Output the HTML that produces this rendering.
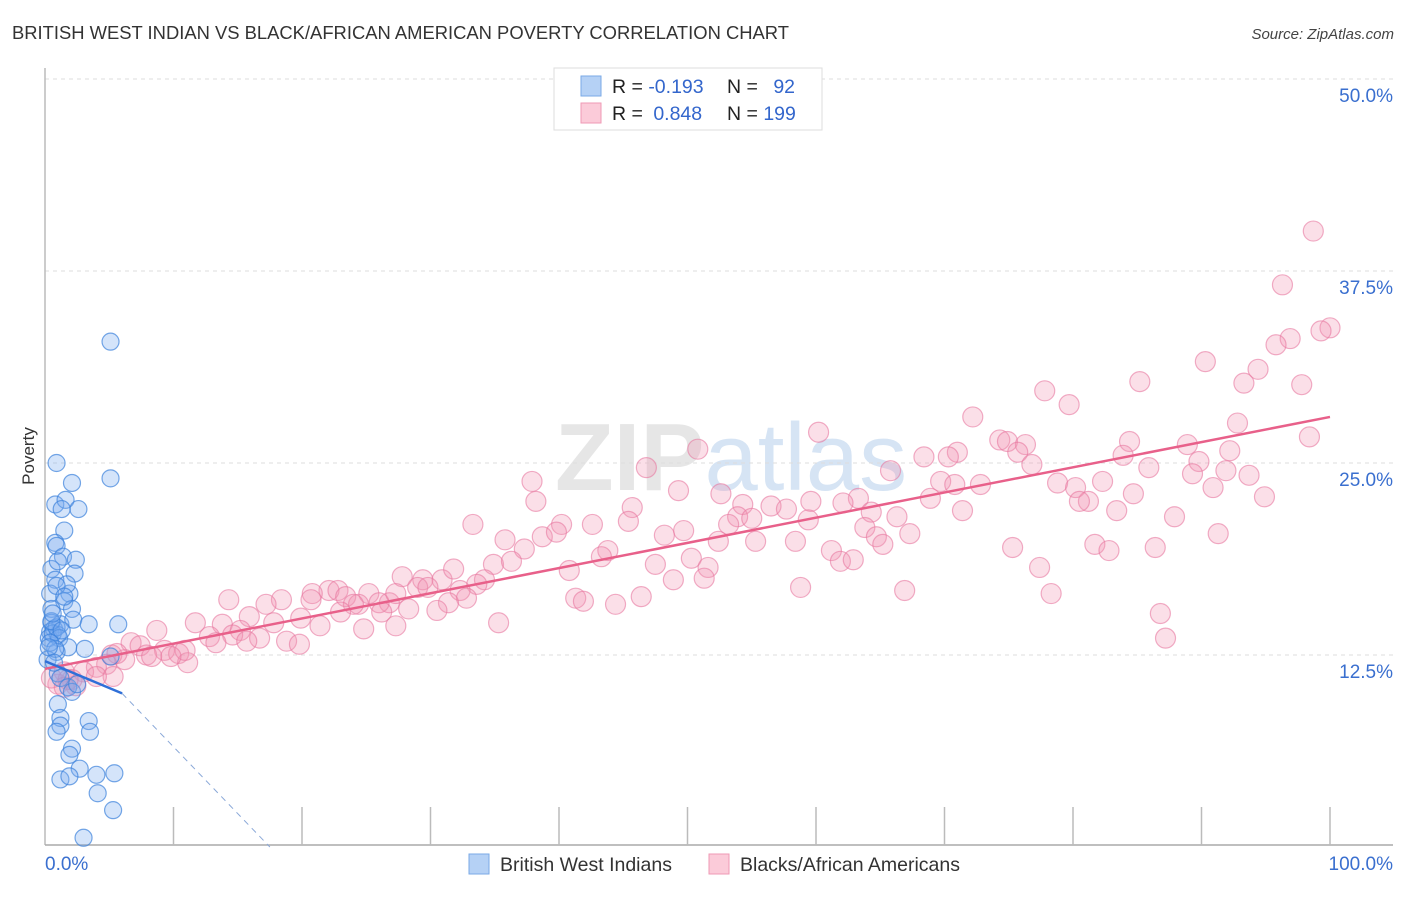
<!DOCTYPE html>
<html><head><meta charset="utf-8"><style>
body{margin:0;background:#fff;font-family:"Liberation Sans",sans-serif;}
svg text{font-family:"Liberation Sans",sans-serif;}
</style></head><body>
<svg id="chart" width="1406" height="892" xmlns="http://www.w3.org/2000/svg">
<text x="12" y="39" font-size="18.4" fill="#333">BRITISH WEST INDIAN VS BLACK/AFRICAN AMERICAN POVERTY CORRELATION CHART</text>
<text x="1394" y="39" font-size="15" font-style="italic" fill="#444" text-anchor="end">Source: ZipAtlas.com</text>
<text x="555" y="490" font-size="96" font-family="Liberation Serif" fill="#e6e6e6" font-weight="bold">ZIP<tspan font-family="Liberation Sans" font-weight="normal" fill="#d6e4f4">atlas</tspan></text>
<text transform="translate(34,456) rotate(-90)" font-size="17" fill="#333" text-anchor="middle">Poverty</text>
<g id="grid"></g>
<g id="axes"></g>
<g id="pinkpts"></g>
<g id="bluepts"></g>
<g id="lines"></g>
<g>
<rect x="554" y="68" width="268" height="62" fill="#fff" stroke="#ddd"/>
<rect x="581" y="76" width="20" height="20" fill="#b5d1f5" stroke="#7aa9e6"/>
<rect x="581" y="103" width="20" height="20" fill="#fbcbd9" stroke="#ef9ab5"/>
<text x="612" y="93" font-size="19.5" fill="#222">R = <tspan fill="#3366cc">-0.193</tspan></text>
<text x="727" y="93" font-size="19.5" fill="#222">N = <tspan fill="#3366cc" dx="10">92</tspan></text>
<text x="612" y="120" font-size="19.5" fill="#222">R = <tspan fill="#3366cc" dx="5">0.848</tspan></text>
<text x="727" y="120" font-size="19.5" fill="#222">N = <tspan fill="#3366cc">199</tspan></text>
</g>
<g>
<rect x="469" y="854" width="20" height="20" fill="#b5d1f5" stroke="#7aa9e6"/>
<text x="500" y="871" font-size="19.5" fill="#333">British West Indians</text>
<rect x="709" y="854" width="20" height="20" fill="#fbcbd9" stroke="#ef9ab5"/>
<text x="740" y="871" font-size="19.5" fill="#333">Blacks/African Americans</text>
</g>
</svg>
<script>
const yTicks=[12.5,25,37.5,50];
const yTickLabels=["12.5%","25.0%","37.5%","50.0%"];
const xTickLabels=["0.0%","100.0%"];
const blueX=[5.1,0.9,5.1,2.1,0.8,1.6,2.6,1.3,1.5,0.8,0.9,1.4,2.4,0.5,2.3,0.8,0.4,1.9,1.5,0.5,2.1,1.7,0.9,0.5,1.2,2.2,3.4,5.7,0.4,0.7,1.0,0.3,0.6,0.9,0.5,1.1,1.8,3.1,0.9,0.2,1.0,1.2,5.1,1.8,2.1,1.0,1.2,3.4,1.2,0.9,3.5,2.1,1.9,2.7,1.2,1.9,4.0,5.4,4.1,5.3,3.0,0.4,0.8,1.3,0.6,1.5,1.0,2.5,0.3,0.7];
const blueY=[32.9,25.0,24.0,23.7,22.3,22.6,22.0,22.0,20.6,19.8,19.6,18.9,18.7,18.1,17.8,17.4,16.5,16.5,16.0,15.5,15.5,17.1,17.0,14.6,14.5,14.8,14.5,14.5,14.0,14.2,13.8,13.6,13.9,14.3,14.7,13.6,13.0,12.9,12.7,12.2,11.3,11.0,12.4,10.4,10.1,9.3,8.4,8.2,7.9,7.5,7.5,6.4,6.0,5.1,4.4,4.6,4.7,4.8,3.5,2.4,0.6,13.3,12.9,14.1,15.2,16.3,18.6,10.6,13.0,12.0];
const pinkX=[98.7,96.3,100,99.3,96.9,95.8,90.3,94.4,85.2,93.3,97.8,77.8,79.7,72.2,92.8,60.2,84.4,98.4,74.3,74.9,76.3,88.9,71.0,75.7,68.4,70.3,83.9,92.2,50.8,76.8,89.8,46.8,85.9,89.3,65.8,91.9,93.7,37.9,69.7,82.3,78.8,80.2,81.2,72.8,70.8,52.6,49.3,68.9,63.3,84.7,90.9,94.9,38.2,83.4,54.3,53.9,56.5,57.7,59.6,62.1,45.7,71.4,55.0,59.4,64.3,87.9,80.5,33.3,40.2,42.6,45.4,49.7,53.2,63.8,66.3,67.3,38.7,39.8,48.2,91.3,64.7,35.8,37.3,52.4,55.3,58.4,65.2,81.7,75.3,86.4,61.2,82.8,43.8,43.3,50.3,34.9,36.3,61.9,62.9,47.5,51.6,77.4,40.8,51.3,27.8,48.9,30.9,29.4,34.2,31.8,33.6,29.0,29.8,32.3,25.2,22.1,22.8,23.4,20.8,20.7,18.4,17.2,14.3,26.8,24.4,26.0,24.0,27.3,41.3,41.9,46.4,44.4,32.8,31.4,30.5,28.3,26.2,23.0,58.8,66.9,78.3,86.8,87.2,35.3,27.3,24.8,21.4,19.9,17.8,15.9,11.7,8.7,13.8,15.2,12.8,14.6,16.7,18.8,19.8,13.3,15.7,6.7,7.4,9.3,7.9,6.2,8.3,10.4,11.1,10.9,9.8,5.2,5.6,4.8,4.0,3.0,1.5,5.3,4.0,2.1,1.0,2.4,0.5,1.8,1.5];
const pinkY=[40.1,36.6,33.8,33.6,33.1,32.7,31.6,31.1,30.3,30.2,30.1,29.7,28.8,28.0,27.6,27.0,26.4,26.7,26.5,26.4,26.2,26.2,25.7,25.7,25.4,25.4,25.5,25.8,25.9,24.9,25.1,24.7,24.7,24.3,24.5,24.5,24.2,23.8,23.8,23.8,23.7,23.4,22.5,23.6,23.6,23.0,23.2,22.7,22.7,23.0,23.4,22.8,22.5,21.9,22.3,21.5,22.2,22.0,22.5,22.4,22.1,21.9,21.4,21.3,21.8,21.5,22.5,21.0,21.0,21.0,21.2,20.6,21.0,20.8,21.5,20.4,20.2,20.5,20.3,20.4,20.2,20.0,19.4,19.9,19.9,19.9,19.7,19.7,19.5,19.5,19.3,19.3,19.3,18.9,18.8,18.4,18.6,18.6,18.7,18.4,18.2,18.2,18.0,17.5,17.6,17.4,17.4,17.4,17.4,18.1,17.1,16.9,16.9,16.7,16.5,16.7,16.7,16.3,16.5,16.1,16.1,15.8,16.1,15.9,15.8,15.9,15.8,16.5,16.2,16.0,16.3,15.8,16.2,15.9,15.4,15.5,15.3,15.3,16.9,16.7,16.5,15.2,13.6,14.6,14.4,14.2,14.4,14.9,14.6,15.0,14.6,14.1,14.5,14.1,13.7,13.8,13.6,13.4,13.2,13.3,13.4,13.3,13.1,12.8,12.5,12.2,12.4,12.6,12.0,12.8,12.4,12.5,12.6,11.9,11.7,11.4,11.4,11.1,11.1,10.9,10.6,10.5,11.0,10.9,10.4];
const blueLine=[[0,12.1],[6.0,10.0]];
const blueDash=[[6.0,10.0],[17.5,0]];
const pinkLine=[[0,11.6],[100,28.0]];

const NS="http://www.w3.org/2000/svg";
const X=v=>45+v*12.85, Y=v=>847-v*15.36;
function mk(t,a,p){const e=document.createElementNS(NS,t);for(const k in a)e.setAttribute(k,a[k]);document.getElementById(p).appendChild(e);return e;}
yTicks.forEach((t,i)=>{
 const g=mk('line',{x1:45,x2:1393,y1:Y(t),y2:Y(t),stroke:'#ddd','stroke-dasharray':'4,4'},'grid');
 
 
 const l=mk('text',{x:1393,y:Y(t)+23,'font-size':19,fill:'#3a6fcf','text-anchor':'end'},'grid');
 l.textContent=yTickLabels[i];
 
 
});
let a=mk('line',{x1:45,x2:45,y1:68,y2:845,stroke:'#bbb','stroke-width':1.5},'axes');


a=mk('line',{x1:45,x2:1393,y1:845,y2:845,stroke:'#aaa','stroke-width':1.5},'axes');


for(let i=1;i<=10;i++){const t=mk('line',{x1:X(i*10),x2:X(i*10),y1:807,y2:845,stroke:'#bbb','stroke-width':1.5},'axes');
 
 }
[[0,'start',45],[100,'end',1393]].forEach((d,i)=>{const t=mk('text',{x:d[2],y:870,'font-size':19,fill:'#3a6fcf','text-anchor':d[1]},'axes');t.textContent=xTickLabels[i];
 
 });
pinkX.forEach((x,i)=>{const c=mk('circle',{cx:X(x),cy:Y(pinkY[i]),r:10,fill:'rgba(242,150,180,0.3)',stroke:'rgba(232,120,160,0.6)','stroke-width':1.2},'pinkpts');
 
 });
blueX.forEach((x,i)=>{const c=mk('circle',{cx:X(x),cy:Y(blueY[i]),r:8.5,fill:'rgba(120,172,238,0.32)',stroke:'rgba(60,130,220,0.7)','stroke-width':1.2},'bluepts');
 
 });
let ln=mk('line',{x1:X(pinkLine[0][0]),y1:Y(pinkLine[0][1]),x2:X(pinkLine[1][0]),y2:Y(pinkLine[1][1]),stroke:'#e8608a','stroke-width':2.5},'lines');


ln=mk('line',{x1:X(blueLine[0][0]),y1:Y(blueLine[0][1]),x2:X(blueLine[1][0]),y2:Y(blueLine[1][1]),stroke:'#2f6fd8','stroke-width':2.5},'lines');


ln=mk('line',{x1:X(blueDash[0][0]),y1:Y(blueDash[0][1]),x2:X(blueDash[1][0]),y2:Y(blueDash[1][1]),stroke:'#8aa8d8','stroke-width':1,'stroke-dasharray':'6,5'},'lines');


</script>
</body></html>
